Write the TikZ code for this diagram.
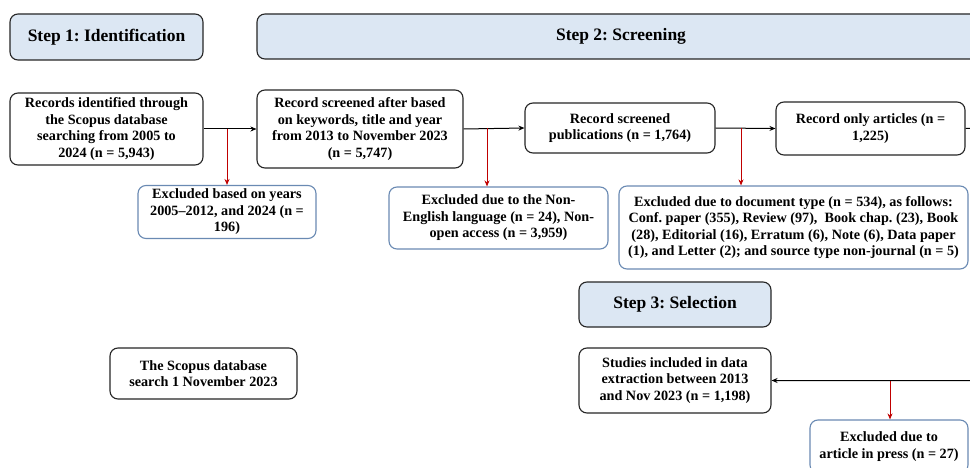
\documentclass[tikz,border=0pt]{standalone}
\usepackage{fontspec}
\setmainfont{Liberation Serif}
\frenchspacing
\usetikzlibrary{arrows.meta}
\definecolor{stepfill}{HTML}{DCE7F3}
\definecolor{exborder}{HTML}{6A8AB3}
\definecolor{redarrow}{HTML}{C00000}
\tikzset{
  base/.style={rounded corners=8pt, line width=1.1pt, align=center, inner sep=0pt,
    font=\fontsize{14.2}{16.5}\selectfont\bfseries},
  stepbox/.style={base, draw=black!85, fill=stepfill, font=\fontsize{17.5}{20}\selectfont\bfseries},
  mainbox/.style={base, draw=black!85, fill=white},
  exbox/.style={base, draw=exborder, fill=white},
  flow/.style={line width=1pt, -{Stealth[length=6pt,width=5pt]}},
  redflow/.style={draw=redarrow, line width=1pt, -{Stealth[length=6pt,width=5pt]}}
}
\begin{document}
\begin{tikzpicture}[x=1pt,y=-1pt]
\clip (0,0) rectangle (970,468);
\fill[white] (0,0) rectangle (970,468);
\node[stepbox, minimum width=193pt, minimum height=46pt] (s1) at (106.5,37) {Step 1: Identification};
\node[stepbox, minimum width=728pt, minimum height=45pt] (s2) at (621,36.5) {Step 2: Screening};
\node[stepbox, minimum width=192pt, minimum height=45pt] (s3) at (675,304.5) {Step 3: Selection};

\node[mainbox, minimum width=193pt, minimum height=72pt] (r1) at (106.5,129) {Records identified through\\the Scopus database\\searching from 2005 to\\2024 (n = 5,943)};
\node[mainbox, minimum width=206pt, minimum height=78pt] (r2) at (360,129) {Record screened after based\\on keywords, title and year\\from 2013 to November 2023\\(n = 5,747)};
\node[mainbox, minimum width=190pt, minimum height=50pt] (r3) at (620,128) {Record screened\\publications (n = 1,764)};
\node[mainbox, minimum width=189pt, minimum height=53pt] (r4) at (870.5,128.5) {Record only articles (n =\\1,225)};
\node[mainbox, minimum width=192pt, minimum height=65pt] (st) at (675,380.5) {Studies included in data\\extraction between 2013\\and Nov 2023 (n = 1,198)};
\node[mainbox, minimum width=187pt, minimum height=51pt] (sc) at (203.5,373.5) {The Scopus database\\search 1 November 2023};

\node[exbox, minimum width=178pt, minimum height=53pt] (e1) at (227,212) {Excluded based on years\\2005--2012, and 2024 (n =\\196)};
\node[exbox, minimum width=219pt, minimum height=62pt] (e2) at (498.5,218) {Excluded due to the Non-\\English language (n = 24), Non-\\open access (n = 3,959)};
\node[exbox, minimum width=349pt, minimum height=83pt] (e3) at (793.5,227.5) {Excluded due to document type (n = 534), as follows:\\Conf. paper (355), Review (97),~ Book chap. (23), Book\\(28), Editorial (16), Erratum (6), Note (6), Data paper\\(1), and Letter (2); and source type non-journal (n = 5)};
\node[exbox, minimum width=158pt, minimum height=53pt] (e4) at (889,446.5) {Excluded due to\\article in press (n = 27)};

\draw[flow] (r1.east) -- (r2.west);
\draw[flow] (r2.east) -- (r3.west);
\draw[flow] (r3.east) -- (r4.west);
\coordinate (c1) at (227,129);
\coordinate (c2) at (487,128);
\coordinate (c3) at (741,128);
\coordinate (c4) at (890,381);
\coordinate (rt) at (990,128);
\draw[redflow] (c1) -- (c1 |- e1.north);
\draw[redflow] (c2) -- (c2 |- e2.north);
\draw[redflow] (c3) -- (c3 |- e3.north);
\draw[flow] (r4.east) -- (rt) |- (st.east);
\draw[redflow] (c4) -- (c4 |- e4.north);
\end{tikzpicture}
\end{document}
